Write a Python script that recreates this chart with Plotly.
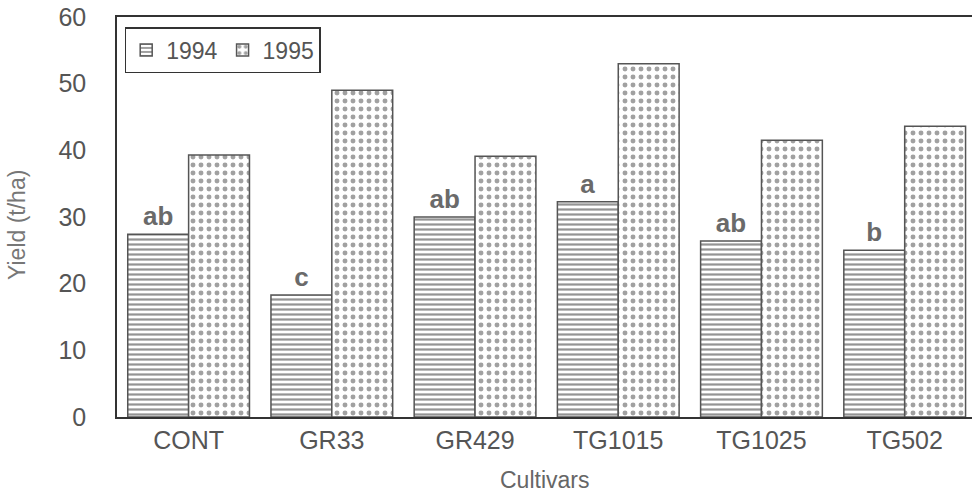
import plotly.graph_objects as go

cultivars = ["CONT", "GR33", "GR429", "TG1015", "TG1025", "TG502"]
yield_1994 = [27.4, 18.3, 30.0, 32.3, 26.4, 25.0]
yield_1995 = [39.3, 49.0, 39.1, 53.0, 41.5, 43.6]
letters_1994 = ["ab", "c", "ab", "a", "ab", "b"]
y_ticks = [0, 10, 20, 30, 40, 50, 60]

FONT = "Liberation Sans, Arial, sans-serif"

fig = go.Figure()
fig.add_trace(go.Bar(
    name="1994", x=cultivars, y=yield_1994,
    text=letters_1994, textposition="outside",
    textfont=dict(family=FONT, size=26, color="#6a6a6a", weight="bold"),
    cliponaxis=False,
    marker=dict(color="white",
                line=dict(color="#555555", width=1.5),
                pattern=dict(shape="-", fgcolor="#2a2a2a", bgcolor="white",
                             size=5, solidity=0.45)),
))
fig.add_trace(go.Bar(
    name="1995", x=cultivars, y=yield_1995,
    marker=dict(color="white",
                line=dict(color="#555555", width=1.5),
                pattern=dict(shape=".", fgcolor="#444444", bgcolor="white",
                             size=8, solidity=0.3)),
))

fig.update_layout(
    width=972, height=495,
    margin=dict(l=117, r=0, t=17, b=78),
    paper_bgcolor="white", plot_bgcolor="white",
    barmode="group", bargap=0.15, bargroupgap=0,
    font=dict(family=FONT, color="#555555"),
    showlegend=True,
    legend=dict(orientation="h", x=0.009, y=0.975, xanchor="left", yanchor="top",
                bgcolor="white", bordercolor="#333333", borderwidth=1.5,
                font=dict(size=23, color="#555555"),
                itemwidth=30, tracegroupgap=0),
    xaxis=dict(range=[-0.5, 5.47], showline=True, linecolor="#333333", linewidth=1.5,
               mirror=True, ticks="", tickfont=dict(size=25, color="#555555"),
               automargin=False, showgrid=False),
    yaxis=dict(range=[0, 60], tickvals=y_ticks, showline=True, linecolor="#333333",
               linewidth=1.5, mirror=False, ticks="", tickfont=dict(size=25, color="#555555"),
               ticklabelstandoff=24, automargin=False,
               showgrid=False, zeroline=False),
    annotations=[
        dict(text="Cultivars", xref="paper", yref="paper", x=0.5, y=0, yshift=-63,
             xanchor="center", yanchor="middle", showarrow=False,
             font=dict(size=23, color="#666666")),
        dict(text="Yield (t/ha)", xref="paper", yref="paper", x=0, xshift=-100, y=0.48,
             xanchor="center", yanchor="middle", textangle=-90, showarrow=False,
             font=dict(size=23, color="#777777")),
    ],
)

fig.write_html("out.html", config={"displayModeBar": False},
               post_script="document.body.style.margin='0px';")
